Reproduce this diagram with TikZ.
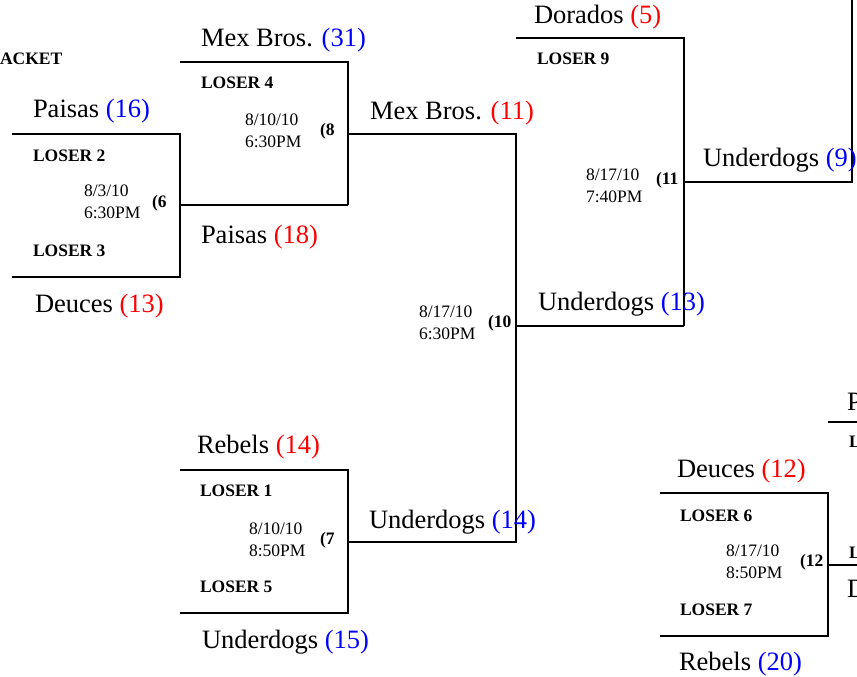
\documentclass[tikz,border=0pt]{standalone}
\usepackage{fontspec}
\setmainfont{Liberation Serif}
\newcommand\rsc[1]{\textcolor{red}{#1}}
\newcommand\bsc[1]{\textcolor{blue}{#1}}
\begin{document}
\begin{tikzpicture}[x=1pt,y=-1pt,line width=2pt,
 team/.style={anchor=west,inner sep=0pt,yshift=-2pt,font=\fontsize{26.5}{30}\selectfont},
 loser/.style={anchor=west,inner sep=0pt,yshift=-1pt,font=\fontsize{17.5}{20}\selectfont\bfseries},
 when/.style={anchor=west,inner sep=0pt,align=left,font=\fontsize{17.5}{21.5}\selectfont},
 gnum/.style={anchor=west,inner sep=0pt,font=\fontsize{17.5}{20}\selectfont\bfseries}]
\useasboundingbox (0,0) rectangle (857,677);
% bracket lines
\draw (12,134) -- (180,134) -- (180,277) -- (12,277);
\draw (180,205) -- (348,205);
\draw (180,62) -- (348,62) -- (348,205);
\draw (348,134) -- (516,134) -- (516,542) -- (348,542);
\draw (516,326) -- (684,326);
\draw (180,470) -- (348,470) -- (348,613) -- (180,613);
\draw (516,38) -- (684,38) -- (684,326);
\draw (684,182) -- (852,182) -- (852,0);
\draw (660,493) -- (828,493) -- (828,636) -- (660,636);
\draw (828,565) -- (857,565);
\draw (828,422) -- (857,422);
% texts
\node[loser] (title) at (-1,58) {ACKET};
\node[team] (t1) at (200,38) {Mex Bros. \bsc{(31)}};
\node[loser] (l4) at (200,82) {LOSER 4};
\node[when] (w8) at (244,131) {8/10/10\\6:30PM};
\node[gnum] (g8) at (319,131) {(8};
\node[team] (t2) at (32,109) {Paisas \bsc{(16)}};
\node[loser] (l2) at (32,155) {LOSER 2};
\node[when] (w6) at (83,202) {8/3/10\\6:30PM};
\node[gnum] (g6) at (151,203) {(6};
\node[loser] (l3) at (32,250) {LOSER 3};
\node[team] (t3) at (34,304) {Deuces \rsc{(13)}};
\node[team] (t4) at (200,235) {Paisas \rsc{(18)}};
\node[team] (t5) at (369,111) {Mex Bros. \rsc{(11)}};
\node[team] (t6) at (533,15) {Dorados \rsc{(5)}};
\node[loser] (l9) at (536,58) {LOSER 9};
\node[when] (w11) at (585,186) {8/17/10\\7:40PM};
\node[gnum] (g11) at (655,180) {(11};
\node[team] (t7) at (702,158) {Underdogs \bsc{(9)}};
\node[team] (t8) at (537,302) {Underdogs \bsc{(13)}};
\node[when] (w10) at (418,323) {8/17/10\\6:30PM};
\node[gnum] (g10) at (487,323) {(10};
\node[team] (t9) at (196,445) {Rebels \rsc{(14)}};
\node[loser] (l1) at (199,490) {LOSER 1};
\node[when] (w7) at (248,540) {8/10/10\\8:50PM};
\node[gnum] (g7) at (319,540) {(7};
\node[loser] (l5) at (199,586) {LOSER 5};
\node[team] (t10) at (201,640) {Underdogs \bsc{(15)}};
\node[team] (t11) at (368,520) {Underdogs \bsc{(14)}};
\node[team] (t12) at (676,469) {Deuces \rsc{(12)}};
\node[loser] (l6) at (679,515) {LOSER 6};
\node[when] (w12) at (725,562) {8/17/10\\8:50PM};
\node[gnum] (g12) at (799,562) {(12};
\node[loser] (l7) at (679,609) {LOSER 7};
\node[team] (t13) at (678,662) {Rebels \bsc{(20)}};
\node[team] (p1) at (846,400) {P};
\node[loser] (p2) at (848,441) {L};
\node[loser] (p3) at (848,552) {L};
\node[team] (p4) at (846,587) {D};
\end{tikzpicture}
\end{document}
